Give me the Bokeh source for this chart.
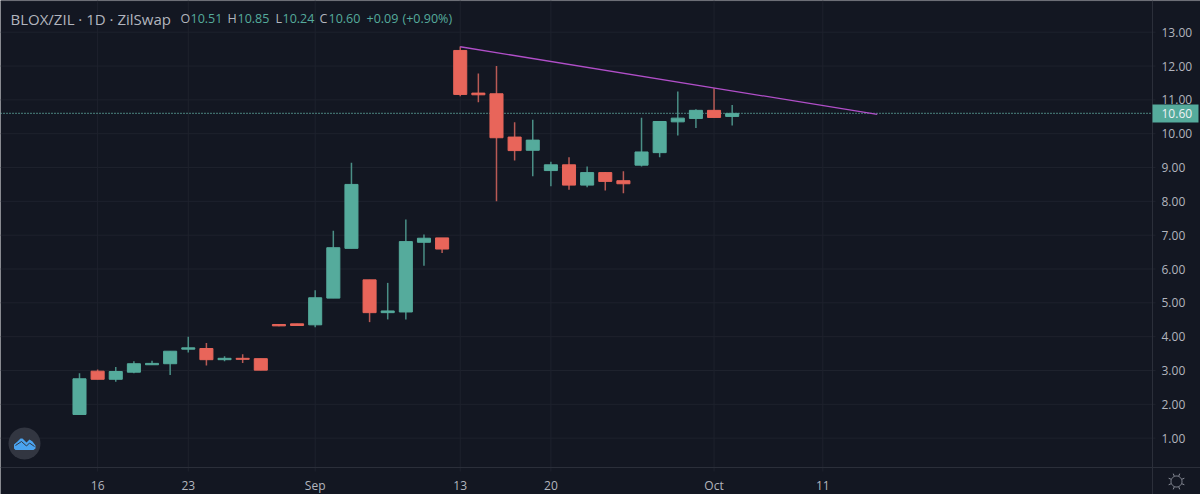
from bokeh.plotting import figure
from bokeh.models import ColumnDataSource, FixedTicker, Label
from bokeh.embed import file_html
from bokeh.resources import INLINE
import math

# ---- data ----
opens  = [1.70,2.98,2.74,2.95,3.17,3.20,3.63,3.65,3.32,3.36,3.35,4.36,4.38,4.35,5.14,6.61,5.68,4.71,4.73,6.79,6.92,
          12.46,11.20,11.18,9.90,9.51,8.91,9.08,8.48,8.85,8.61,9.07,9.44,10.35,10.45,10.69,10.51]
highs  = [2.92,3.03,3.10,3.27,3.29,3.57,4.00,3.81,3.42,3.48,3.35,4.37,4.38,5.37,7.13,9.14,5.68,5.59,7.46,7.02,6.92,
          12.58,11.78,12.00,10.34,10.41,9.17,9.30,9.03,8.87,8.89,10.47,10.36,11.25,10.72,11.34,10.85]
lows   = [1.70,2.74,2.67,2.92,3.17,2.87,3.53,3.15,3.27,3.22,3.01,4.31,4.33,4.28,5.14,6.61,4.43,4.51,4.51,6.10,6.47,
          11.11,10.93,8.00,9.21,8.74,8.45,8.34,8.42,8.32,8.24,9.03,9.30,9.95,10.17,10.48,10.24]
closes = [2.755,2.74,2.97,3.20,3.21,3.57,3.67,3.32,3.36,3.33,3.01,4.32,4.33,5.15,6.63,8.50,4.71,4.76,6.81,6.91,6.59,
          11.16,11.15,9.88,9.50,9.81,9.08,8.48,8.85,8.59,8.52,9.46,10.36,10.46,10.69,10.48,10.60]
price_ticks = [1,2,3,4,5,6,7,8,9,10,11,12,13]
date_ticks = [1,6,13,21,26,35,41]
date_labels = ["16","23","Sep","13","20","Oct","11"]
trend_x = [21,44]
trend_y = [12.57,10.57]
last_price = 10.60

# ---- colours ----
BG="#131722"; GRID="#1e222d"; AXIS="#2b2f3a"; TXT="#b2b5be"
UP="#55ab9c"; DOWN="#e8655a"; UPW="#4a8f86"; DOWNW="#b85a55"; TREND="#b14fc9"

# reference-pixel to data mapping
X0=79.0; XS=18.13; Y13=31.7; YS=33.83
px=lambda x:(x-X0)/XS
py=lambda y:13-(y-Y13)/YS

idx=list(range(len(opens)))
is_up=[c>=o for o,c in zip(opens,closes)]
src=ColumnDataSource(dict(
    x=idx,open=opens,close=closes,high=highs,low=lows,
    top=[max(o,c) for o,c in zip(opens,closes)],
    bottom=[min(o,c) for o,c in zip(opens,closes)],
    body=[UP if u else DOWN for u in is_up],
    wick=[UPW if u else DOWNW for u in is_up]))

FONT="Open Sans"
p=figure(width=1200,height=494,output_backend="svg",toolbar_location=None,
         x_range=(px(0),px(1200)),y_range=(py(494),py(0)),
         y_axis_location="right",min_border=0,
         background_fill_color=BG,border_fill_color=BG,outline_line_color=None)

p.yaxis.fixed_location=px(1152)
p.xaxis.fixed_location=py(467)
p.yaxis.ticker=FixedTicker(ticks=price_ticks)
p.yaxis.major_label_overrides={t:f"{t:.2f}" for t in price_ticks}
p.xaxis.ticker=FixedTicker(ticks=date_ticks)
p.xaxis.major_label_overrides=dict(zip(date_ticks,date_labels))
for ax in (p.xaxis[0],p.yaxis[0]):
    ax.axis_line_color=AXIS
    ax.major_tick_line_color=None
    ax.minor_tick_line_color=None
    ax.major_tick_in=0
    ax.major_tick_out=0
    ax.minor_tick_in=0
    ax.minor_tick_out=0
    ax.major_label_text_color=TXT
    ax.major_label_text_font=FONT
    ax.major_label_text_font_size="12px"
    ax.major_label_standoff=9
p.grid.visible=False

# grid drawn so that it stops at the price and date axes
p.multi_line([[px(0),px(1155)] for _ in price_ticks],[[t,t] for t in price_ticks],color=GRID,line_width=1)
p.multi_line([[t,t] for t in date_ticks],[[py(0),py(471)] for _ in date_ticks],color=GRID,line_width=1)
p.line([px(0),px(1200)],[py(0.5),py(0.5)],color=GRID,line_width=1)

p.line([px(0),px(1152)],[last_price,last_price],color="#6cc2b4",line_width=1.2,line_dash=[1,2])
p.segment("x","high","x","low",source=src,color="wick",line_width=1.5)
p.vbar(x="x",top="top",bottom="bottom",width=0.72,source=src,fill_color="body",line_color="body",line_width=1)
p.line(trend_x,trend_y,color=TREND,line_width=1.3)

# price tag
p.quad(left=[px(1152)],right=[px(1198)],top=[py(104)],bottom=[py(122)],color=UP,line_color=None,level="annotation")
p.add_layout(Label(x=px(1161),y=last_price,text="10.60",text_color="#eef1f5",text_font=FONT,
                   text_font_size="12px",text_baseline="middle"))

# status line
def lab(x,text,color,size="12.5px"):
    p.add_layout(Label(x=px(x),y=py(18),text=text,text_color=color,text_font=FONT,
                       text_font_size=size,text_baseline="middle"))
lab(10,"BLOX/ZIL · 1D · ZilSwap",TXT,"15px")
for x,t,c in [(180,"O",TXT),(190,"10.51",UP),(227,"H",TXT),(237,"10.85",UP),(275,"L",TXT),(282,"10.24",UP),
              (319,"C",TXT),(328,"10.60",UP),(366,"+0.09",UP),(402,"(+0.90%)",UP)]:
    lab(x,t,c)

# logo badge
n=48
p.patch([px(24+16*math.cos(2*math.pi*k/n)) for k in range(n)],
        [py(443+16*math.sin(2*math.pi*k/n)) for k in range(n)],color="#323641",line_color=None)
cloud=[(13.5,448),(13.5,444),(17,441),(20,438),(22,438),(26,442),(29,439),(32,441),(35,445),(35,448),(33,449.5),(15,449.5)]
p.patch([px(a) for a,b in cloud],[py(b) for a,b in cloud],color="#4aa3ef",line_color=None)
p.line([px(a) for a in (15,21,26,29,34)],[py(b) for b in (445,441,445.5,442.5,446)],color="#323641",line_width=1)

# settings icon: ring and rays
ring=[(1176+5.5*math.cos(2*math.pi*k/32),481+5.5*math.sin(2*math.pi*k/32)) for k in range(33)]
p.line([px(a) for a,b in ring],[py(b) for a,b in ring],color="#8b8f9a",line_width=1)
rays_x=[];rays_y=[]
for k in range(8):
    a=math.pi/8+math.pi*k/4
    rays_x.append([px(1176+6*math.cos(a)),px(1176+8.5*math.cos(a))])
    rays_y.append([py(481+6*math.sin(a)),py(481+8.5*math.sin(a))])
p.multi_line(rays_x,rays_y,color="#8b8f9a",line_width=1)

open("out.html","w").write(file_html(p,INLINE))
